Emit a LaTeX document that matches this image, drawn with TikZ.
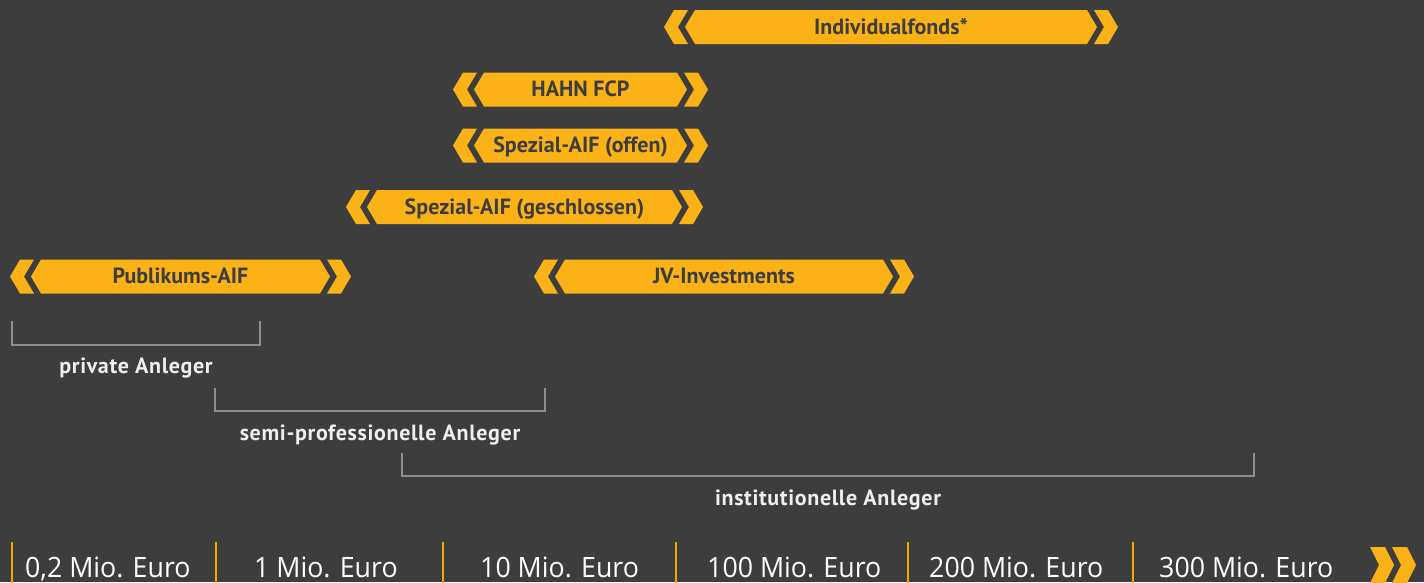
\documentclass[tikz,border=0pt]{standalone}
\usepackage{fontspec}
\setmainfont{PT Sans}
\newfontfamily\groupfont[LetterSpace=3]{PT Sans}
\newfontfamily\axisfont[FakeStretch=0.955]{Open Sans}
\definecolor{bg}{HTML}{3D3D3D}
\definecolor{barfill}{HTML}{FBB216}
\definecolor{ink}{HTML}{3D3D3D}
\definecolor{brk}{HTML}{8F8F8F}
\definecolor{lbl}{HTML}{EEEEEE}
\definecolor{tick}{HTML}{F5A800}
\tikzset{
  barlabel/.style={font=\bfseries\fontsize{22}{22}\selectfont, text=ink, inner sep=0pt, anchor=base},
  grouplabel/.style={font=\groupfont\bfseries\fontsize{22}{22}\selectfont, text=lbl, inner sep=0pt, anchor=base},
  bracket/.style={draw=brk, line width=2.6pt},
  axisline/.style={draw=tick, line width=2.4pt},
  axislabel/.style={font=\axisfont\fontsize{28}{28}\selectfont, text=white, inner sep=0pt, anchor=base west},
}
\newcommand\fundbar[5]{%
  \fill[barfill] (#2,#4) -- (#2+10,#4-17) -- (#3-10,#4-17) -- (#3,#4) -- (#3-10,#4+17) -- (#2+10,#4+17) -- cycle;
  \fill[barfill] (#3+7,#4) -- (#3-3,#4-17) -- (#3+11,#4-17) -- (#3+21,#4) -- (#3+11,#4+17) -- (#3-3,#4+17) -- cycle;
  \fill[barfill] (#2-7,#4) -- (#2+3,#4-17) -- (#2-11,#4-17) -- (#2-21,#4) -- (#2-11,#4+17) -- (#2+3,#4+17) -- cycle;
  \node[barlabel] (#1) at ({(#2+#3)/2},#4+7) {#5};}
\begin{document}
\begin{tikzpicture}[x=1pt,y=-1pt]
\fill[bg] (0,0) rectangle (1424,582);
\useasboundingbox (0,0) rectangle (1424,582);
% bars
\fundbar{indiv}{685}{1097}{27}{Individualfonds*}
\fundbar{hahn}{474}{687}{89.5}{HAHN FCP}
\fundbar{offen}{474}{687}{145.5}{Spezial-AIF (offen)}
\fundbar{geschl}{367}{682}{207}{Spezial-AIF (geschlossen)}
\fundbar{publ}{31}{330}{276.5}{Publikums-AIF}
\fundbar{jv}{555}{893}{276.5}{JV-Investments}
% brackets
\coordinate (pa) at (12,321);
\coordinate (pb) at (260,321);
\coordinate (sa) at (215,388);
\coordinate (sb) at (545,388);
\coordinate (ia) at (402,453);
\coordinate (ib) at (1254,453);
\draw[bracket] (pa) -- ++(0,24) -| (pb);
\draw[bracket] (sa) -- ++(0,23) -| (sb);
\draw[bracket] (ia) -- ++(0,23) -| (ib);
\node[grouplabel] (priv) at (136,373) {private Anleger};
\node[grouplabel] (semi) at (380,440) {semi-professionelle Anleger};
\node[grouplabel] (inst) at (828,505) {institutionelle Anleger};
% axis
\foreach \x/\n in {12/t1,216/t2,443/t3,676/t4,908/t5,1133/t6}{
  \coordinate (\n a) at (\x,542);
  \coordinate (\n b) at (\x,583);
  \draw[axisline] (\n a) -- (\n b);
}
\node[axislabel] (a1) at (25,577) {0,2 Mio. Euro};
\node[axislabel] (a2) at (254,577) {1 Mio. Euro};
\node[axislabel] (a3) at (480,577) {10 Mio. Euro};
\node[axislabel] (a4) at (707,577) {100 Mio. Euro};
\node[axislabel] (a5) at (929,577) {200 Mio. Euro};
\node[axislabel] (a6) at (1159,577) {300 Mio. Euro};
% end chevrons
\foreach \s in {0,22}{
  \fill[barfill] (1370+\s,547) -- (1385+\s,547) -- (1394+\s,565) -- (1385+\s,583) -- (1370+\s,583) -- (1379+\s,565) -- cycle;
}
\end{tikzpicture}
\end{document}
